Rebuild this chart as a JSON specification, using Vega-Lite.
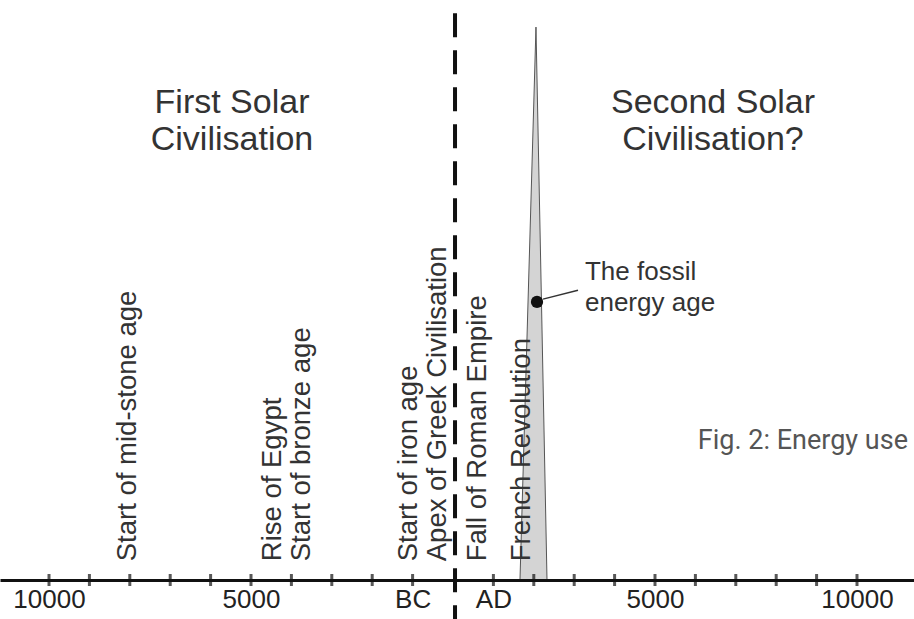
{
  "$schema": "https://vega.github.io/schema/vega-lite/v6.json",
  "width": 914,
  "height": 619,
  "padding": 0,
  "autosize": {"type": "none"},
  "background": "white",
  "config": {"view": {"stroke": null}},
  "datasets": {
    "spike": [
      {"year": 1658, "level": 0},
      {"year": 2054, "level": 100},
      {"year": 2327, "level": 0}
    ],
    "ticks": [
      {"year": -10000}, {"year": -9000}, {"year": -8000}, {"year": -7000}, {"year": -6000},
      {"year": -5000}, {"year": -4000}, {"year": -3000}, {"year": -2000}, {"year": -1000},
      {"year": 1000}, {"year": 2000}, {"year": 3000}, {"year": 4000}, {"year": 5000},
      {"year": 6000}, {"year": 7000}, {"year": 8000}, {"year": 9000}, {"year": 10000}
    ],
    "events": [
      {"label": "Start of mid-stone age", "year": -8050},
      {"label": "Rise of Egypt", "year": -4450},
      {"label": "Start of bronze age", "year": -3750},
      {"label": "Start of iron age", "year": -1100},
      {"label": "Apex of Greek Civilisation", "year": -380},
      {"label": "Fall of Roman Empire", "year": 610},
      {"label": "French Revolution", "year": 1720}
    ],
    "now": [{"year": 2079, "level": 50.3}],
    "connector": [
      {"year": 2228, "level": 50.8},
      {"year": 3094, "level": 52.4}
    ],
    "titles": [
      {"label": "First Solar\nCivilisation", "year": -5470, "level": 86.3},
      {"label": "Second Solar\nCivilisation?", "year": 6436, "level": 86.3}
    ],
    "fossil": [{"label": "The fossil\nenergy age", "year": 3267, "level": 55.7}],
    "fig": [{"label": "Fig. 2: Energy use", "year": 11262, "level": 25.1}]
  },
  "layer": [
    {
      "data": {"name": "spike"},
      "mark": {"type": "area", "fill": "#d4d4d4", "stroke": "#555", "strokeWidth": 1},
      "encoding": {
        "x": {
          "field": "year",
          "type": "quantitative",
          "scale": {"domain": [-11213, 11411], "nice": false, "zero": false},
          "axis": {
            "orient": "bottom",
            "offset": -39,
            "values": [-10000, -5000, -1000, 1000, 5000, 10000],
            "labelExpr": "datum.value == -1000 ? 'BC' : datum.value == 1000 ? 'AD' : format(abs(datum.value), 'd')",
            "ticks": false,
            "grid": false,
            "domainColor": "#111",
            "domainWidth": 3,
            "labelFont": "Liberation Sans",
            "labelFontSize": 26,
            "labelColor": "#222",
            "labelPadding": 6,
            "labelFlush": false,
            "labelOverlap": false,
            "title": null,
            "zindex": 1
          }
        },
        "y": {
          "field": "level",
          "type": "quantitative",
          "scale": {"domain": [-7.05, 104.9], "nice": false, "zero": false},
          "axis": null
        }
      }
    },
    {
      "data": {"name": "ticks"},
      "mark": {"type": "tick", "orient": "vertical", "size": 12, "thickness": 3, "color": "#111"},
      "encoding": {
        "x": {"field": "year", "type": "quantitative"},
        "y": {"datum": 0, "type": "quantitative", "axis": null}
      }
    },
    {
      "data": {"values": [{"year": 50}]},
      "mark": {"type": "rule", "strokeDash": [24, 13], "strokeWidth": 4, "color": "#111"},
      "encoding": {
        "x": {"field": "year", "type": "quantitative"},
        "y": {"datum": 102.5, "type": "quantitative", "axis": null},
        "y2": {"datum": -7.05}
      }
    },
    {
      "data": {"name": "connector"},
      "mark": {"type": "line", "color": "#333", "strokeWidth": 1.5},
      "encoding": {
        "x": {"field": "year", "type": "quantitative"},
        "y": {"field": "level", "type": "quantitative", "axis": null}
      }
    },
    {
      "data": {"name": "now"},
      "mark": {"type": "point", "filled": true, "size": 150, "color": "#111", "opacity": 1},
      "encoding": {
        "x": {"field": "year", "type": "quantitative"},
        "y": {"field": "level", "type": "quantitative", "axis": null}
      }
    },
    {
      "data": {"name": "events"},
      "mark": {"type": "text", "angle": 270, "align": "left", "baseline": "middle", "font": "Liberation Sans", "fontSize": 27.5, "color": "#333"},
      "encoding": {
        "x": {"field": "year", "type": "quantitative"},
        "y": {"datum": 3.4, "type": "quantitative", "axis": null},
        "text": {"field": "label"}
      }
    },
    {
      "data": {"name": "titles"},
      "mark": {"type": "text", "align": "center", "baseline": "middle", "lineBreak": "\n", "lineHeight": 37, "font": "Liberation Sans", "fontSize": 34, "color": "#333"},
      "encoding": {
        "x": {"field": "year", "type": "quantitative"},
        "y": {"field": "level", "type": "quantitative", "axis": null},
        "text": {"field": "label"}
      }
    },
    {
      "data": {"name": "fossil"},
      "mark": {"type": "text", "align": "left", "baseline": "middle", "lineBreak": "\n", "lineHeight": 31, "font": "Liberation Sans", "fontSize": 26, "color": "#333"},
      "encoding": {
        "x": {"field": "year", "type": "quantitative"},
        "y": {"field": "level", "type": "quantitative", "axis": null},
        "text": {"field": "label"}
      }
    },
    {
      "data": {"name": "fig"},
      "mark": {"type": "text", "align": "right", "baseline": "middle", "font": "Roboto", "fontSize": 27, "color": "#555"},
      "encoding": {
        "x": {"field": "year", "type": "quantitative"},
        "y": {"field": "level", "type": "quantitative", "axis": null},
        "text": {"field": "label"}
      }
    }
  ]
}
